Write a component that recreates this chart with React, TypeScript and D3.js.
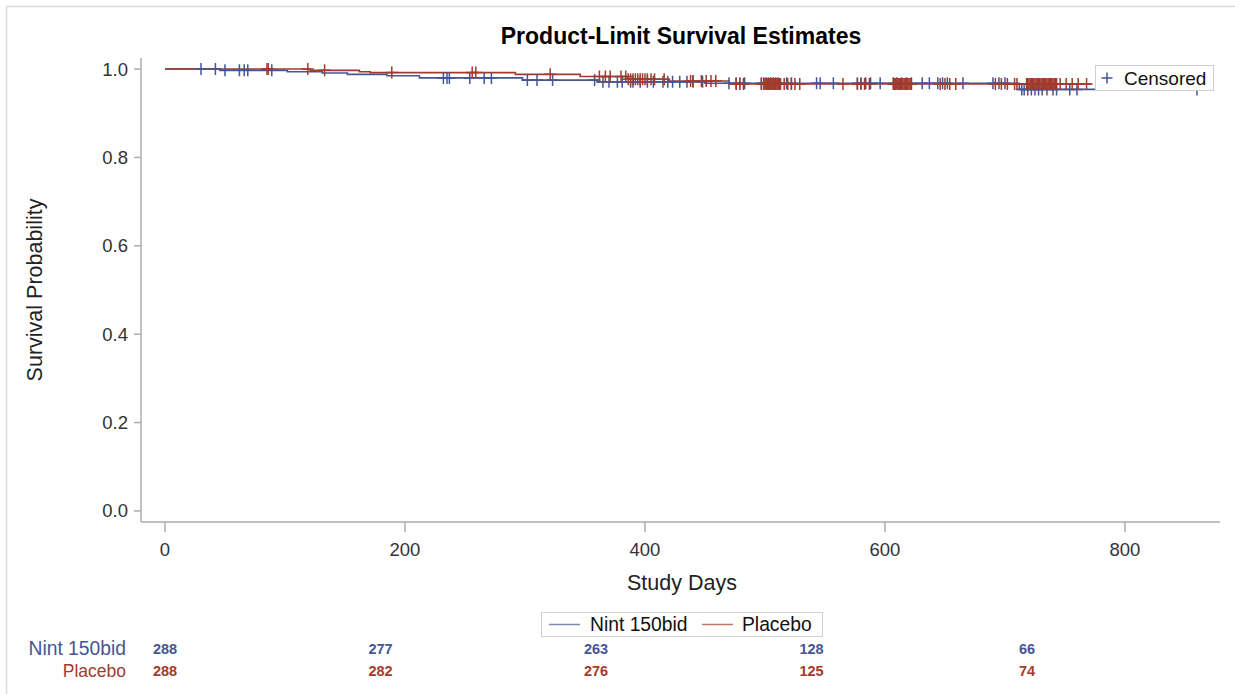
import React from "react";
import * as d3 from "d3";

// ---- data ----
const xTicks = [0, 200, 400, 600, 800];
const yTicks = [0, 0.2, 0.4, 0.6, 0.8, 1.0];

const nintTimes = [0, 46, 102, 131, 152, 185, 212, 298, 360, 450, 712];
const nintSurv = [1, 0.997, 0.994, 0.991, 0.988, 0.985, 0.98, 0.975, 0.971, 0.968, 0.954];
const nintEnd = 862;

const placeboTimes = [0, 121, 162, 171, 292, 346, 385, 420, 470];
const placeboSurv = [1, 0.997, 0.994, 0.992, 0.988, 0.983, 0.977, 0.973, 0.966];
const placeboEnd = 772;

const nintCensored = [
  30, 42, 50, 62, 66, 69, 89, 232, 235, 237, 254, 266, 272, 302, 310, 323,
  358, 365, 370, 377, 381, 388, 390, 396, 402, 407, 415, 419, 423, 429, 435, 440,
  448, 470, 476, 479, 483, 497, 499, 501, 503, 505, 507, 509, 511, 518, 522,
  543, 546, 557, 577, 580, 584, 588, 596, 607, 610, 614, 618, 622, 631, 637,
  644, 648, 652, 665, 690, 695, 700, 714, 716, 719, 722, 725, 728, 731, 735,
  740, 743, 754, 760, 860,
];

const placeboCensored = [
  85, 86, 119, 133, 189, 256, 259, 321, 362, 367, 371, 380, 384, 386, 388, 390,
  392, 394, 396, 398, 400, 402, 405, 408, 416, 438, 440, 447, 451, 455, 459,
  476, 479, 482, 497, 499, 500, 501, 502, 503, 504, 505, 506, 507, 508, 509,
  510, 511, 512, 513, 516, 519, 522, 525, 529, 565, 577, 580, 583, 587, 607,
  608, 609, 610, 611, 612, 613, 614, 615, 616, 617, 618, 619, 620, 621, 622,
  646, 650, 654, 659, 692, 697, 702, 708, 710, 718, 719, 720, 721, 722, 723,
  724, 725, 726, 727, 728, 729, 730, 731, 732, 733, 734, 735, 736, 737, 738,
  739, 740, 741, 742, 743, 746, 751, 756, 761, 768,
];

const riskTimes = [0, 200, 400, 600, 800];
const riskNint = [288, 277, 263, 128, 66];
const riskPlacebo = [288, 282, 276, 125, 74];

const groups = ["Nint 150bid", "Placebo"];

// ---- styles ----
const BLUE = "#445694";
const RED = "#A23A2E";
const AXIS = "#a9adb2";
const FONT = "'Liberation Sans', Arial, Helvetica, sans-serif";

export default function App() {
  const x = d3.scaleLinear().domain([-20, 879.2]).range([141, 1220]);
  const y = d3.scaleLinear().domain([-0.025, 1.025]).range([522, 58]);
  const riskX = d3.scaleLinear().domain([0, 800]).range([165, 1027]);

  const stepFn = (times: number[], surv: number[]) => (t: number) => {
    let s = surv[0];
    for (let i = 0; i < times.length; i++) if (times[i] <= t) s = surv[i];
    return s;
  };
  const nintS = stepFn(nintTimes, nintSurv);
  const placeboS = stepFn(placeboTimes, placeboSurv);

  const line = d3
    .line<[number, number]>()
    .x((d) => x(d[0]))
    .y((d) => y(d[1]))
    .curve(d3.curveStepAfter);

  const nintPts: [number, number][] = nintTimes.map((t, i) => [t, nintSurv[i]]);
  nintPts.push([nintEnd, nintSurv[nintSurv.length - 1]]);
  const placeboPts: [number, number][] = placeboTimes.map((t, i) => [t, placeboSurv[i]]);
  placeboPts.push([placeboEnd, placeboSurv[placeboSurv.length - 1]]);

  const plus = (cx: number, cy: number, h: number) =>
    `M${cx - h},${cy}H${cx + h}M${cx},${cy - h}V${cy + h}`;

  return (
    <svg
      width={1235}
      height={694}
      style={{ position: "absolute", left: 0, top: 0, background: "#fff" }}
      fontFamily={FONT}
    >
      <rect x={6.5} y={6.5} width={1240} height={700} fill="#fff" stroke="#dadada" strokeWidth={1.5} />

      {/* title */}
      <text x={681} y={44} textAnchor="middle" fontSize={23} fontWeight="bold" fill="#000">
        Product-Limit Survival Estimates
      </text>

      {/* axes */}
      <line x1={141} x2={141} y1={58} y2={522} stroke={AXIS} strokeWidth={1.5} />
      <line x1={141} x2={1220} y1={522} y2={522} stroke={AXIS} strokeWidth={1.5} />
      {yTicks.map((t) => (
        <g key={"y" + t}>
          <line x1={134} x2={141} y1={y(t)} y2={y(t)} stroke={AXIS} strokeWidth={1.5} />
          <text x={128} y={y(t) + 6.5} textAnchor="end" fontSize={18.5} fill="#333">
            {t.toFixed(1)}
          </text>
        </g>
      ))}
      {xTicks.map((t) => (
        <g key={"x" + t}>
          <line x1={x(t)} x2={x(t)} y1={522} y2={532} stroke={AXIS} strokeWidth={1.5} />
          <text x={x(t)} y={556} textAnchor="middle" fontSize={18.5} fill="#333">
            {t}
          </text>
        </g>
      ))}
      <text x={682} y={590} textAnchor="middle" fontSize={21.5} fill="#222">
        Study Days
      </text>
      <text
        transform={`translate(42,290) rotate(-90)`}
        textAnchor="middle"
        fontSize={21.5}
        fill="#222"
      >
        Survival Probability
      </text>

      {/* curves */}
      <path d={line(nintPts) || ""} fill="none" stroke={BLUE} strokeWidth={1.6} />
      <path d={line(placeboPts) || ""} fill="none" stroke={RED} strokeWidth={1.6} />
      {nintCensored.map((t, i) => (
        <path key={"nc" + i} d={plus(x(t), y(nintS(t)), 6)} stroke={BLUE} strokeWidth={1.5} fill="none" />
      ))}
      {placeboCensored.map((t, i) => (
        <path key={"pc" + i} d={plus(x(t), y(placeboS(t)), 6)} stroke={RED} strokeWidth={1.5} fill="none" />
      ))}

      {/* censored legend */}
      <rect x={1095.5} y={65.5} width={118} height={25} fill="#fff" stroke="#d0d0d0" strokeWidth={1} />
      <path d={plus(1107, 78, 5.5)} stroke={BLUE} strokeWidth={1.5} fill="none" />
      <text x={1124} y={84.5} fontSize={19} fill="#111">
        Censored
      </text>

      {/* group legend */}
      <rect x={541.5} y={612.5} width={281} height={24} fill="#fff" stroke="#d0d0d0" strokeWidth={1} />
      <line x1={549} x2={580} y1={624.5} y2={624.5} stroke={BLUE} strokeOpacity={0.7} strokeWidth={1.5} />
      <text x={590} y={631} fontSize={19.3} fill="#111">
        {groups[0]}
      </text>
      <line x1={702} x2={733} y1={624.5} y2={624.5} stroke={RED} strokeOpacity={0.7} strokeWidth={1.5} />
      <text x={742} y={631} fontSize={19.3} fill="#111">
        {groups[1]}
      </text>

      {/* at-risk table */}
      <text x={126} y={655} textAnchor="end" fontSize={19.3} fill={BLUE}>
        {groups[0]}
      </text>
      <text x={126} y={677} textAnchor="end" fontSize={17.5} fill={RED}>
        {groups[1]}
      </text>
      {riskTimes.map((t, i) => (
        <g key={"r" + t}>
          <text x={riskX(t)} y={654} textAnchor="middle" fontSize={14.5} fontWeight="bold" fill={BLUE}>
            {riskNint[i]}
          </text>
          <text x={riskX(t)} y={676} textAnchor="middle" fontSize={14.5} fontWeight="bold" fill={RED}>
            {riskPlacebo[i]}
          </text>
        </g>
      ))}
    </svg>
  );
}
